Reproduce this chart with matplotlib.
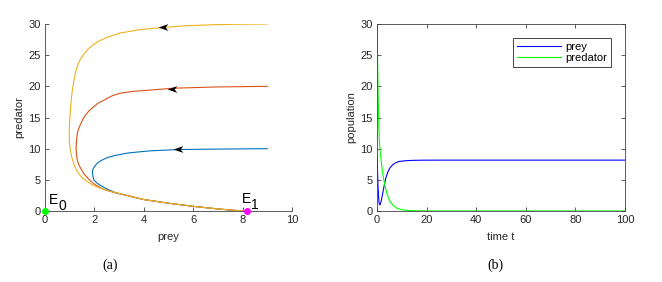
import matplotlib
matplotlib.use("Agg")
import matplotlib.pyplot as plt
from matplotlib.path import Path

# ---------------- data ----------------
# phase plane: three trajectories starting at prey=9
yellow_x = [9.0, 8.0, 6.95, 5.6, 4.79, 3.85, 3.04, 2.5, 2.2, 1.96, 1.75, 1.55, 1.4, 1.28, 1.19, 1.12,
            1.07, 1.04, 1.0, 0.98, 0.99, 1.02, 1.08, 1.17, 1.28, 1.4, 1.55, 1.75, 1.96, 2.2, 2.5]
yellow_y = [30.0, 29.97, 29.9, 29.7, 29.45, 29.1, 28.55, 27.85, 27.3, 26.7, 26.0, 25.05, 24.1, 22.9, 21.4,
            19.7, 18.2, 16.8, 14.6, 12.5, 11.0, 10.0, 8.7, 7.5, 6.55, 5.8, 5.2, 4.6, 4.1, 3.72, 3.33]
red_x = [9.0, 6.95, 5.2, 4.25, 3.6, 3.04, 2.7, 2.4, 2.15, 1.96, 1.78, 1.62, 1.53, 1.45, 1.37, 1.31,
         1.28, 1.26, 1.27, 1.31, 1.38, 1.49, 1.6, 1.75, 1.85, 2.0, 2.3, 2.6]
red_y = [20.0, 19.9, 19.7, 19.4, 19.2, 18.9, 18.45, 17.8, 17.3, 16.7, 16.05, 15.3, 14.7, 14.0, 13.3, 12.5,
         11.5, 10.3, 9.2, 8.15, 7.3, 6.55, 5.85, 5.2, 4.8, 4.3, 3.6, 3.18]
blue_x = [9.0, 6.95, 5.4, 4.25, 3.85, 3.35, 2.9, 2.55, 2.3, 2.12, 2.0, 1.94, 1.92, 1.94, 1.98, 2.1,
          2.23, 2.5, 2.8]
blue_y = [10.0, 9.93, 9.86, 9.65, 9.5, 9.3, 8.96, 8.6, 8.16, 7.7, 7.1, 6.7, 6.3, 5.6, 4.95, 4.5,
          4.13, 3.55, 3.05]
# common branch approaching E1
tail_x = [2.8, 3.17, 3.98, 5.0, 6.0, 7.0, 7.5, 8.03]
tail_y = [2.98, 2.63, 1.85, 1.25, 0.75, 0.33, 0.16, 0.0]
# direction arrows
arrow_x = [4.79, 5.13, 5.4]
arrow_y = [29.45, 19.65, 9.88]
# equilibria
eq_x = [0.0, 8.16]
eq_y = [0.0, 0.0]
eq_names = ["E", "E"]
eq_subs = ["0", "1"]

# time series
t_pred = [0, 0.2, 0.4, 0.6, 0.8, 1.0, 1.3, 1.7, 2.2, 3.0, 4.0, 5.0, 6.5, 8, 10, 13, 18, 25, 100]
predator = [30, 25, 20, 16, 13, 11, 9.5, 8.0, 6.3, 4.4, 2.8, 1.7, 0.9, 0.45, 0.2, 0.07, 0.02, 0, 0]
t_prey = [0, 0.2, 0.4, 0.6, 0.8, 1.0, 1.3, 1.7, 2.2, 2.8, 3.5, 4.3, 5.2, 6.3, 7.5, 9, 11, 14, 18, 25, 100]
prey = [9, 6.5, 4.2, 2.5, 1.4, 1.0, 1.05, 1.6, 2.6, 3.9, 5.2, 6.2, 6.9, 7.4, 7.75, 7.95, 8.05, 8.12,
        8.15, 8.16, 8.16]

x_ticks_a = [0, 2, 4, 6, 8, 10]
y_ticks = [0, 5, 10, 15, 20, 25, 30]
x_ticks_b = [0, 20, 40, 60, 80, 100]

# ---------------- style ----------------
plt.rcParams['font.family'] = ['Liberation Sans', 'DejaVu Sans']
FS = 8
AX_COL = '#404040'
C_BLUE = '#0072BD'
C_RED = '#D95319'
C_YEL = '#EDB120'

fig = plt.figure(figsize=(6.62, 2.82), dpi=100)
axA = fig.add_axes([45/662, 1-211/282, 247/662, 187/282])
axB = fig.add_axes([377/662, 1-211/282, 248/662, 187/282])

# ---- panel (a)
lw = 0.8
axA.plot(blue_x + tail_x, blue_y + tail_y, color=C_BLUE, lw=lw, zorder=2)
axA.plot(red_x + tail_x, red_y + tail_y, color=C_RED, lw=lw, zorder=3)
axA.plot(yellow_x + tail_x[1:], yellow_y + tail_y[1:], color=C_YEL, lw=lw, zorder=4)

arrow_path = Path([(-1.0, 0.0), (1.0, 0.7), (0.45, 0.0), (1.0, -0.7), (-1.0, 0.0)],
                  [Path.MOVETO, Path.LINETO, Path.LINETO, Path.LINETO, Path.CLOSEPOLY])
axA.plot(arrow_x, arrow_y, linestyle='none', marker=arrow_path, markersize=7,
         color='k', markeredgewidth=0, zorder=5)

axA.plot(eq_x[0], eq_y[0], 'o', color='#00FF00', markersize=4, zorder=6, clip_on=False)
axA.plot(eq_x[1], eq_y[1], 'o', color='#FF00FF', markersize=4, zorder=6, clip_on=False)
# labels E0, E1 (subscript drawn at the same size, shifted down as in the original)
label_pos = [((0.17, 1.19), (0.54, 0.23)), ((7.96, 1.29), (8.33, 0.39))]
for name, sub, (p_main, p_sub) in zip(eq_names, eq_subs, label_pos):
    axA.text(p_main[0], p_main[1], name, fontsize=10, ha='left', va='baseline', zorder=7)
    axA.text(p_sub[0], p_sub[1], sub, fontsize=10, ha='left', va='baseline', zorder=7)

axA.set_xlim(0, 10)
axA.set_ylim(0, 30)
axA.set_xticks(x_ticks_a)
axA.set_yticks(y_ticks)
axA.spines['top'].set_visible(False)
axA.spines['right'].set_visible(False)
axA.set_xlabel('prey', fontsize=FS, labelpad=5, color='#262626')
axA.set_ylabel('predator', fontsize=FS, labelpad=3, color='#262626')

# ---- panel (b)
axB.plot(t_prey, prey, color='#0000FF', lw=0.8, label='prey')
axB.plot(t_pred, predator, color='#00FF00', lw=0.8, label='predator')
axB.set_xlim(0, 100)
axB.set_ylim(0, 30)
axB.set_xticks(x_ticks_b)
axB.set_yticks(y_ticks)
axB.set_xlabel('time t', fontsize=FS, labelpad=5, color='#262626')
axB.set_ylabel('population', fontsize=FS, labelpad=3, color='#262626')
axB.tick_params(top=True, right=True)
leg = axB.legend(loc='upper right', bbox_to_anchor=(0.942, 0.9235), borderaxespad=0,
                 fontsize=FS, handlelength=4.0, fancybox=False, framealpha=1,
                 edgecolor='#262626', borderpad=0.3, labelspacing=0.15, handletextpad=0.4)
leg.get_frame().set_linewidth(0.6)

for ax in (axA, axB):
    ax.tick_params(direction='in', length=3, width=0.6, labelsize=FS, colors=AX_COL,
                   labelcolor='#262626', pad=3)
    for s in ax.spines.values():
        s.set_color(AX_COL)
        s.set_linewidth(0.6)

fig.text(110/662, 1-265/282, '(a)', fontsize=10, family='Liberation Serif', ha='center', va='center')
fig.text(495/662, 1-265/282, '(b)', fontsize=10, family='Liberation Serif', ha='center', va='center')

fig.savefig('out.png', dpi=100)
